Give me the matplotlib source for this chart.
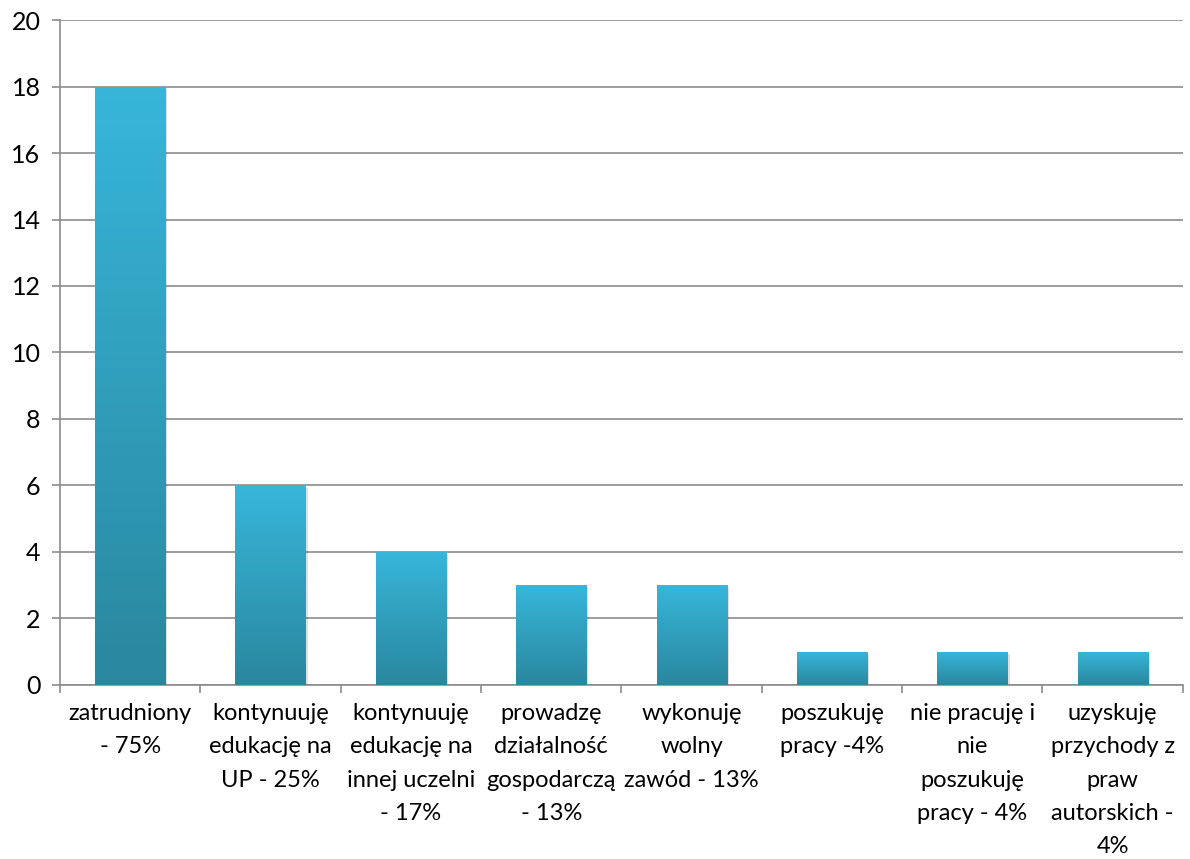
import numpy as np
import matplotlib.pyplot as plt
from matplotlib.colors import LinearSegmentedColormap

plt.rcParams['font.family'] = ['Lato', 'DejaVu Sans']

categories = ['zatrudniony\n- 75%',
              'kontynuuję\nedukację na\nUP - 25%',
              'kontynuuję\nedukację na\ninnej uczelni\n- 17%',
              'prowadzę\ndziałalność\ngospodarczą\n- 13%',
              'wykonuję\nwolny\nzawód - 13%',
              'poszukuję\npracy -4%',
              'nie pracuję i\nnie\nposzukuję\npracy - 4%',
              'uzyskuję\nprzychody z\npraw\nautorskich -\n4%']
values = [18, 6, 4, 3, 3, 1, 1, 1]
yticks = [0, 2, 4, 6, 8, 10, 12, 14, 16, 18, 20]

fig = plt.figure(figsize=(11.9, 8.59), dpi=100)
ax = fig.add_axes([0.0504, 0.2026, 0.9436, 0.7741])

# gradient: dark at bottom, light at top
cmap = LinearSegmentedColormap.from_list('bar', ['#2a879e', '#37b6da'])
grad = np.linspace(0, 1, 256).reshape(-1, 1)

x = np.arange(len(values))
bars = ax.bar(x, values, width=0.5, color='none', edgecolor='none', zorder=3)
for b in bars:
    # soft shadow
    sh = plt.Rectangle((b.get_x() + 0.015, 0), b.get_width(), b.get_height() - 0.08,
                       color='#000000', alpha=0.12, zorder=2, lw=0)
    ax.add_patch(sh)
    im = ax.imshow(grad, cmap=cmap, origin='lower', aspect='auto',
                   extent=[b.get_x(), b.get_x() + b.get_width(), 0, b.get_height()],
                   zorder=3)
    im.set_clip_path(b)

ax.set_xlim(-0.5, len(values) - 0.5)
ax.set_ylim(0, 20)
ax.set_yticks(yticks)
ax.set_yticklabels([str(v) for v in yticks], fontsize=18)
ax.yaxis.grid(True, color='#8c8c8c', lw=1.2, zorder=0)
ax.set_axisbelow(True)

ax.set_xticks(x)
ax.set_xticklabels(categories, fontsize=17, linespacing=1.72)
ax.tick_params(axis='x', length=0, pad=13)
ax.set_xticks(np.arange(len(values) + 1) - 0.5, minor=True)
ax.tick_params(axis='x', which='minor', length=6, color='#8c8c8c', width=1.2)
ax.tick_params(axis='y', length=6, color='#8c8c8c', width=1.2, pad=8)

for s in ['top', 'right']:
    ax.spines[s].set_visible(False)
for s in ['left', 'bottom']:
    ax.spines[s].set_color('#8c8c8c')
    ax.spines[s].set_linewidth(1.2)

fig.savefig('out.png', dpi=100)
